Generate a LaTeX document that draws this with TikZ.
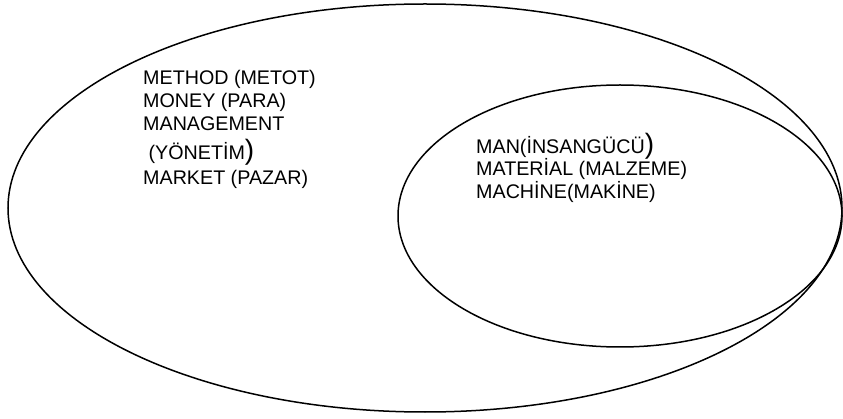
\documentclass[tikz,border=0pt]{standalone}
\usepackage{fontspec}
\setmainfont{Liberation Sans}
\usetikzlibrary{shapes.geometric}
\begin{document}
\begin{tikzpicture}[x=1pt,y=-1pt,
  setring/.style={draw=black, line width=1.5pt, ellipse, inner sep=0pt},
  lbl/.style={anchor=base west, inner sep=0pt, font=\fontsize{19.7}{23}\selectfont}]
\useasboundingbox (0,0) rectangle (843,419);
\node[setring, minimum width=834pt, minimum height=408pt] (outer) at (425,208) {};
\node[setring, minimum width=444pt, minimum height=262pt] (inner) at (620,216) {};
\node[lbl] (l1) at (143,85) {METHOD (METOT)};
\node[lbl] (l2) at (143,108) {MONEY (PARA)};
\node[lbl] (l3) at (143,131) {MANAGEMENT};
\node[lbl] (l4) at (143,160) {\ (YÖNETİM{\fontsize{28}{28}\selectfont)}};
\node[lbl] (l5) at (143,185) {MARKET (PAZAR)};
\node[lbl] (r1) at (476,154) {MAN(İNSANGÜCÜ{\fontsize{28}{28}\selectfont)}};
\node[lbl] (r2) at (476,176) {MATERİAL (MALZEME)};
\node[lbl] (r3) at (476,199) {MACHİNE(MAKİNE)};
\end{tikzpicture}
\end{document}
